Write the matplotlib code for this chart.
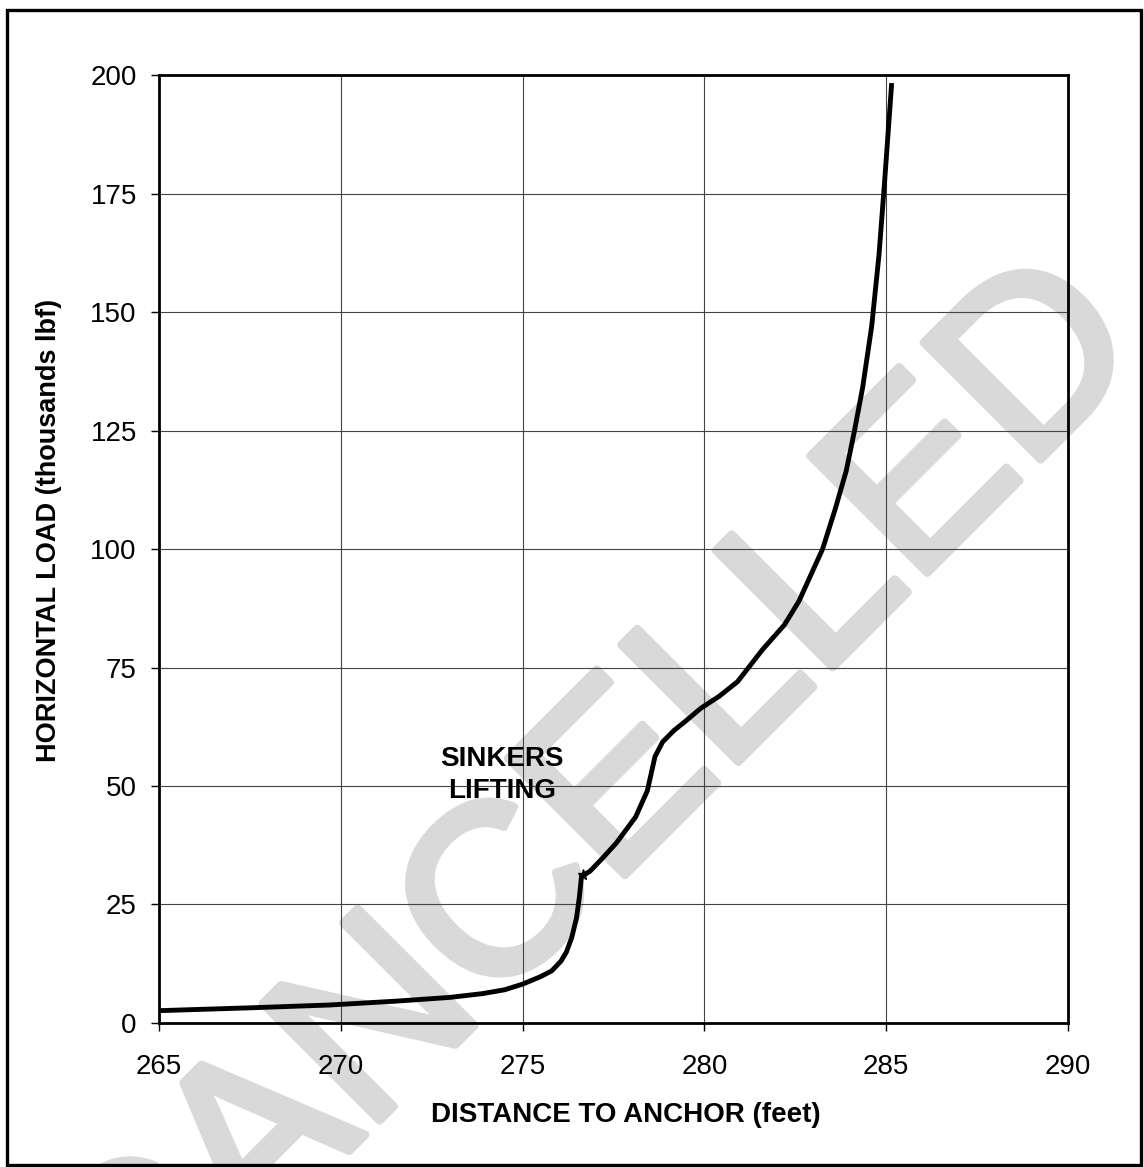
import numpy as np
import matplotlib
matplotlib.use("Agg")
import matplotlib.pyplot as plt
import matplotlib.patheffects as pe
from matplotlib.patches import Rectangle

plt.rcParams['font.family'] = ['Liberation Sans', 'DejaVu Sans']

# ---------- Data ---------- #

distance = [265.0, 267.5, 269.7, 271.5, 273.0, 273.9, 274.5, 275.0, 275.5,
            275.8, 276.05, 276.2, 276.35, 276.48, 276.56, 276.62,
            276.85, 277.2, 277.58, 278.11, 278.43, 278.64, 278.85, 279.16,
            279.5, 279.9, 280.4, 280.91, 281.6, 282.2, 282.6, 283.25, 283.6,
            283.9, 284.12, 284.35, 284.6, 284.8, 284.95, 285.15]
load = [2.6, 3.2, 3.8, 4.6, 5.4, 6.2, 7.0, 8.2, 9.8,
        11.0, 13.0, 14.9, 18.0, 22.1, 26.5, 31.0,
        32.0, 34.8, 38.0, 43.5, 49.0, 56.2, 59.3, 61.7,
        63.8, 66.4, 68.9, 72.0, 78.8, 84.0, 89.0, 100.0, 108.5,
        116.5, 124.7, 134.0, 147.0, 162.0, 177.0, 198.3]

lift_x = [276.65]
lift_y = [31.2]

xticks = [265, 270, 275, 280, 285, 290]
yticks = [0, 25, 50, 75, 100, 125, 150, 175, 200]

# ---------- Plot ---------- #

fig = plt.figure(figsize=(11.44, 11.67), dpi=100)
ax = fig.add_axes([0.139, 0.1234, 0.7946, 0.8123])

# watermark
ax.text(0.559, 0.2626, 'CANCELLED', transform=fig.transFigure, fontsize=173,
        color='#d9d9d9', rotation=45, rotation_mode='anchor',
        ha='center', va='baseline', zorder=1, clip_on=False,
        path_effects=[pe.withStroke(linewidth=6, foreground='#d9d9d9')])

ax.plot(distance, load, color='black', lw=3.5, solid_joinstyle='round',
        solid_capstyle='butt', zorder=3)
ax.plot(lift_x, lift_y, marker='*', color='black', ms=8, zorder=4)

ax.set_xlim(265, 290)
ax.set_ylim(0, 200)
ax.set_xticks(xticks)
ax.set_yticks(yticks)
ax.grid(True, color='#444444', lw=0.8)

for s in ax.spines.values():
    s.set_linewidth(2)
    s.set_zorder(5)
ax.tick_params(axis='both', direction='out', length=6, width=1, labelsize=20)
ax.tick_params(axis='y', pad=10)
ax.tick_params(axis='x', pad=16)

ax.set_xlabel('DISTANCE TO ANCHOR (feet)', fontsize=20, fontweight='bold')
ax.set_ylabel('HORIZONTAL LOAD (thousands lbf)', fontsize=19.5, fontweight='bold')
ax.xaxis.set_label_coords(0.513, -0.083)
ax.yaxis.set_label_coords(-0.107, 0.52)

ax.text(274.43, 52.3, 'SINKERS\nLIFTING', fontsize=20, fontweight='bold',
        ha='center', va='center', linespacing=1.3, zorder=6)

# outer frame
fig.add_artist(Rectangle((0.0061, 0.0017), 0.9913, 0.9897, transform=fig.transFigure,
                         fill=False, lw=2.4, edgecolor='black'))

plt.savefig('out.png')
